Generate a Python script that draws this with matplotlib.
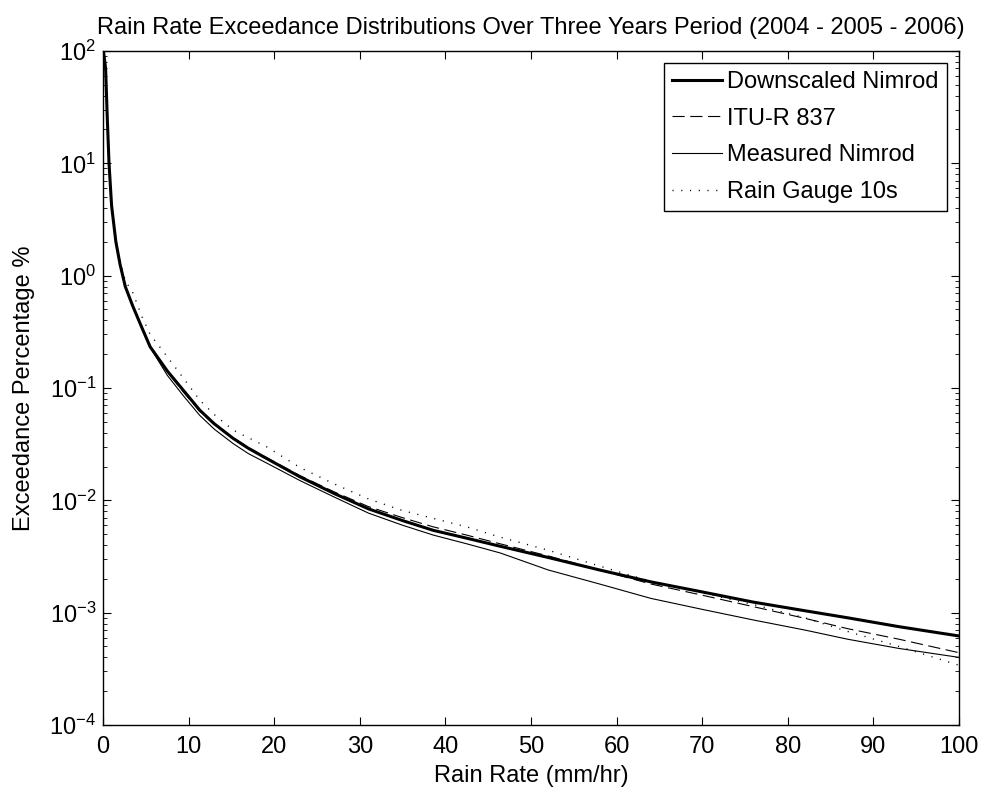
import numpy as np
import matplotlib.pyplot as plt
from matplotlib.ticker import LogLocator

plt.rcParams['font.family'] = ['Liberation Sans', 'DejaVu Sans']
plt.rcParams['mathtext.fontset'] = 'custom'
plt.rcParams['mathtext.rm'] = 'Liberation Sans'

# rain rate (mm/hr)
rain_rate = [0.05, 0.3, 0.5, 0.7, 1.0, 1.5, 2.0, 2.6, 3.5, 4.5, 5.5, 7.5, 9.4, 11.3,
             13, 15.2, 17, 19.1, 23, 27, 31, 35, 38.6, 42.5, 46.4, 52, 58, 64, 70,
             76, 82, 87, 93, 100]

# exceedance percentage (%)
downscaled = [100, 70, 25, 10, 4.2, 2.0, 1.25, 0.8, 0.53, 0.35, 0.233, 0.142, 0.095, 0.0635,
              0.048, 0.0356, 0.029, 0.0236, 0.0162, 0.0115, 0.0084, 0.0066, 0.0054, 0.0046,
              0.0039, 0.0031, 0.0024, 0.00188, 0.00153, 0.00124, 0.00104, 0.0009, 0.00075, 0.00062]
itu = [100, 70, 25, 10, 4.2, 2.0, 1.25, 0.8, 0.53, 0.35, 0.235, 0.14, 0.092, 0.062,
       0.047, 0.036, 0.0295, 0.024, 0.0166, 0.0119, 0.0088, 0.0070, 0.0058, 0.0049,
       0.0041, 0.0032, 0.0024, 0.0018, 0.00143, 0.00113, 0.00089, 0.00072, 0.00058, 0.00044]
measured = [100, 70, 25, 10, 4.2, 2.0, 1.25, 0.8, 0.53, 0.35, 0.23, 0.13, 0.085, 0.057,
            0.043, 0.032, 0.026, 0.0215, 0.015, 0.0107, 0.0077, 0.006, 0.0049, 0.0041,
            0.0034, 0.0024, 0.0018, 0.00134, 0.00107, 0.00086, 0.0007, 0.00058, 0.00048, 0.0004]
gauge = [100, 70, 25, 10, 4.2, 2.1, 1.35, 0.9, 0.7, 0.44, 0.3, 0.19, 0.122, 0.078,
         0.058, 0.0422, 0.036, 0.030, 0.0196, 0.0140, 0.0103, 0.0081, 0.0069, 0.0058,
         0.0047, 0.0036, 0.0026, 0.0019, 0.0015, 0.00118, 0.0009, 0.00068, 0.0005, 0.00034]

fs = 17

fig = plt.figure(figsize=(9.84, 7.94), dpi=100)
ax = fig.add_axes([0.1047, 0.0869, 0.8699, 0.8489])

ax.semilogy(rain_rate, downscaled, 'k-', lw=2.2, label="Downscaled Nimrod")
ax.semilogy(rain_rate, itu, 'k--', lw=0.8, dashes=(11, 5), label="ITU-R 837")
ax.semilogy(rain_rate, measured, 'k-', lw=0.8, label="Measured Nimrod")
ax.semilogy(rain_rate, gauge, 'k:', lw=1.0, dashes=(0.8, 5.5), label="Rain Gauge 10s")

ax.set_xlim(0, 100)
ax.set_ylim(1e-4, 1e2)
ax.set_xticks(np.arange(0, 101, 10))
ax.yaxis.set_major_locator(LogLocator(base=10, numticks=10))
ax.yaxis.set_minor_locator(LogLocator(base=10, subs=np.arange(2, 10), numticks=10))
ax.tick_params(which='both', direction='in', top=True, right=True, labelsize=fs)
ax.tick_params(which='major', length=6)
ax.tick_params(which='minor', length=3)
ax.tick_params(axis='x', pad=8)
ax.tick_params(axis='y', pad=5)
for s in ax.spines.values():
    s.set_linewidth(1.0)

ax.set_xlabel("Rain Rate (mm/hr)", fontsize=fs, labelpad=5)
ax.set_ylabel("Exceedance Percentage %", fontsize=fs, labelpad=10)
ax.set_title("Rain Rate Exceedance Distributions Over Three Years Period (2004 - 2005 - 2006)",
             fontsize=fs, pad=12)

leg = ax.legend(loc='upper right', fontsize=fs, fancybox=False, edgecolor='k',
                framealpha=1, handlelength=2.1, handletextpad=0.25, borderpad=0.35,
                labelspacing=0.62, borderaxespad=0.5)
leg.get_frame().set_linewidth(1.0)

fig.savefig("out.png", dpi=100)
